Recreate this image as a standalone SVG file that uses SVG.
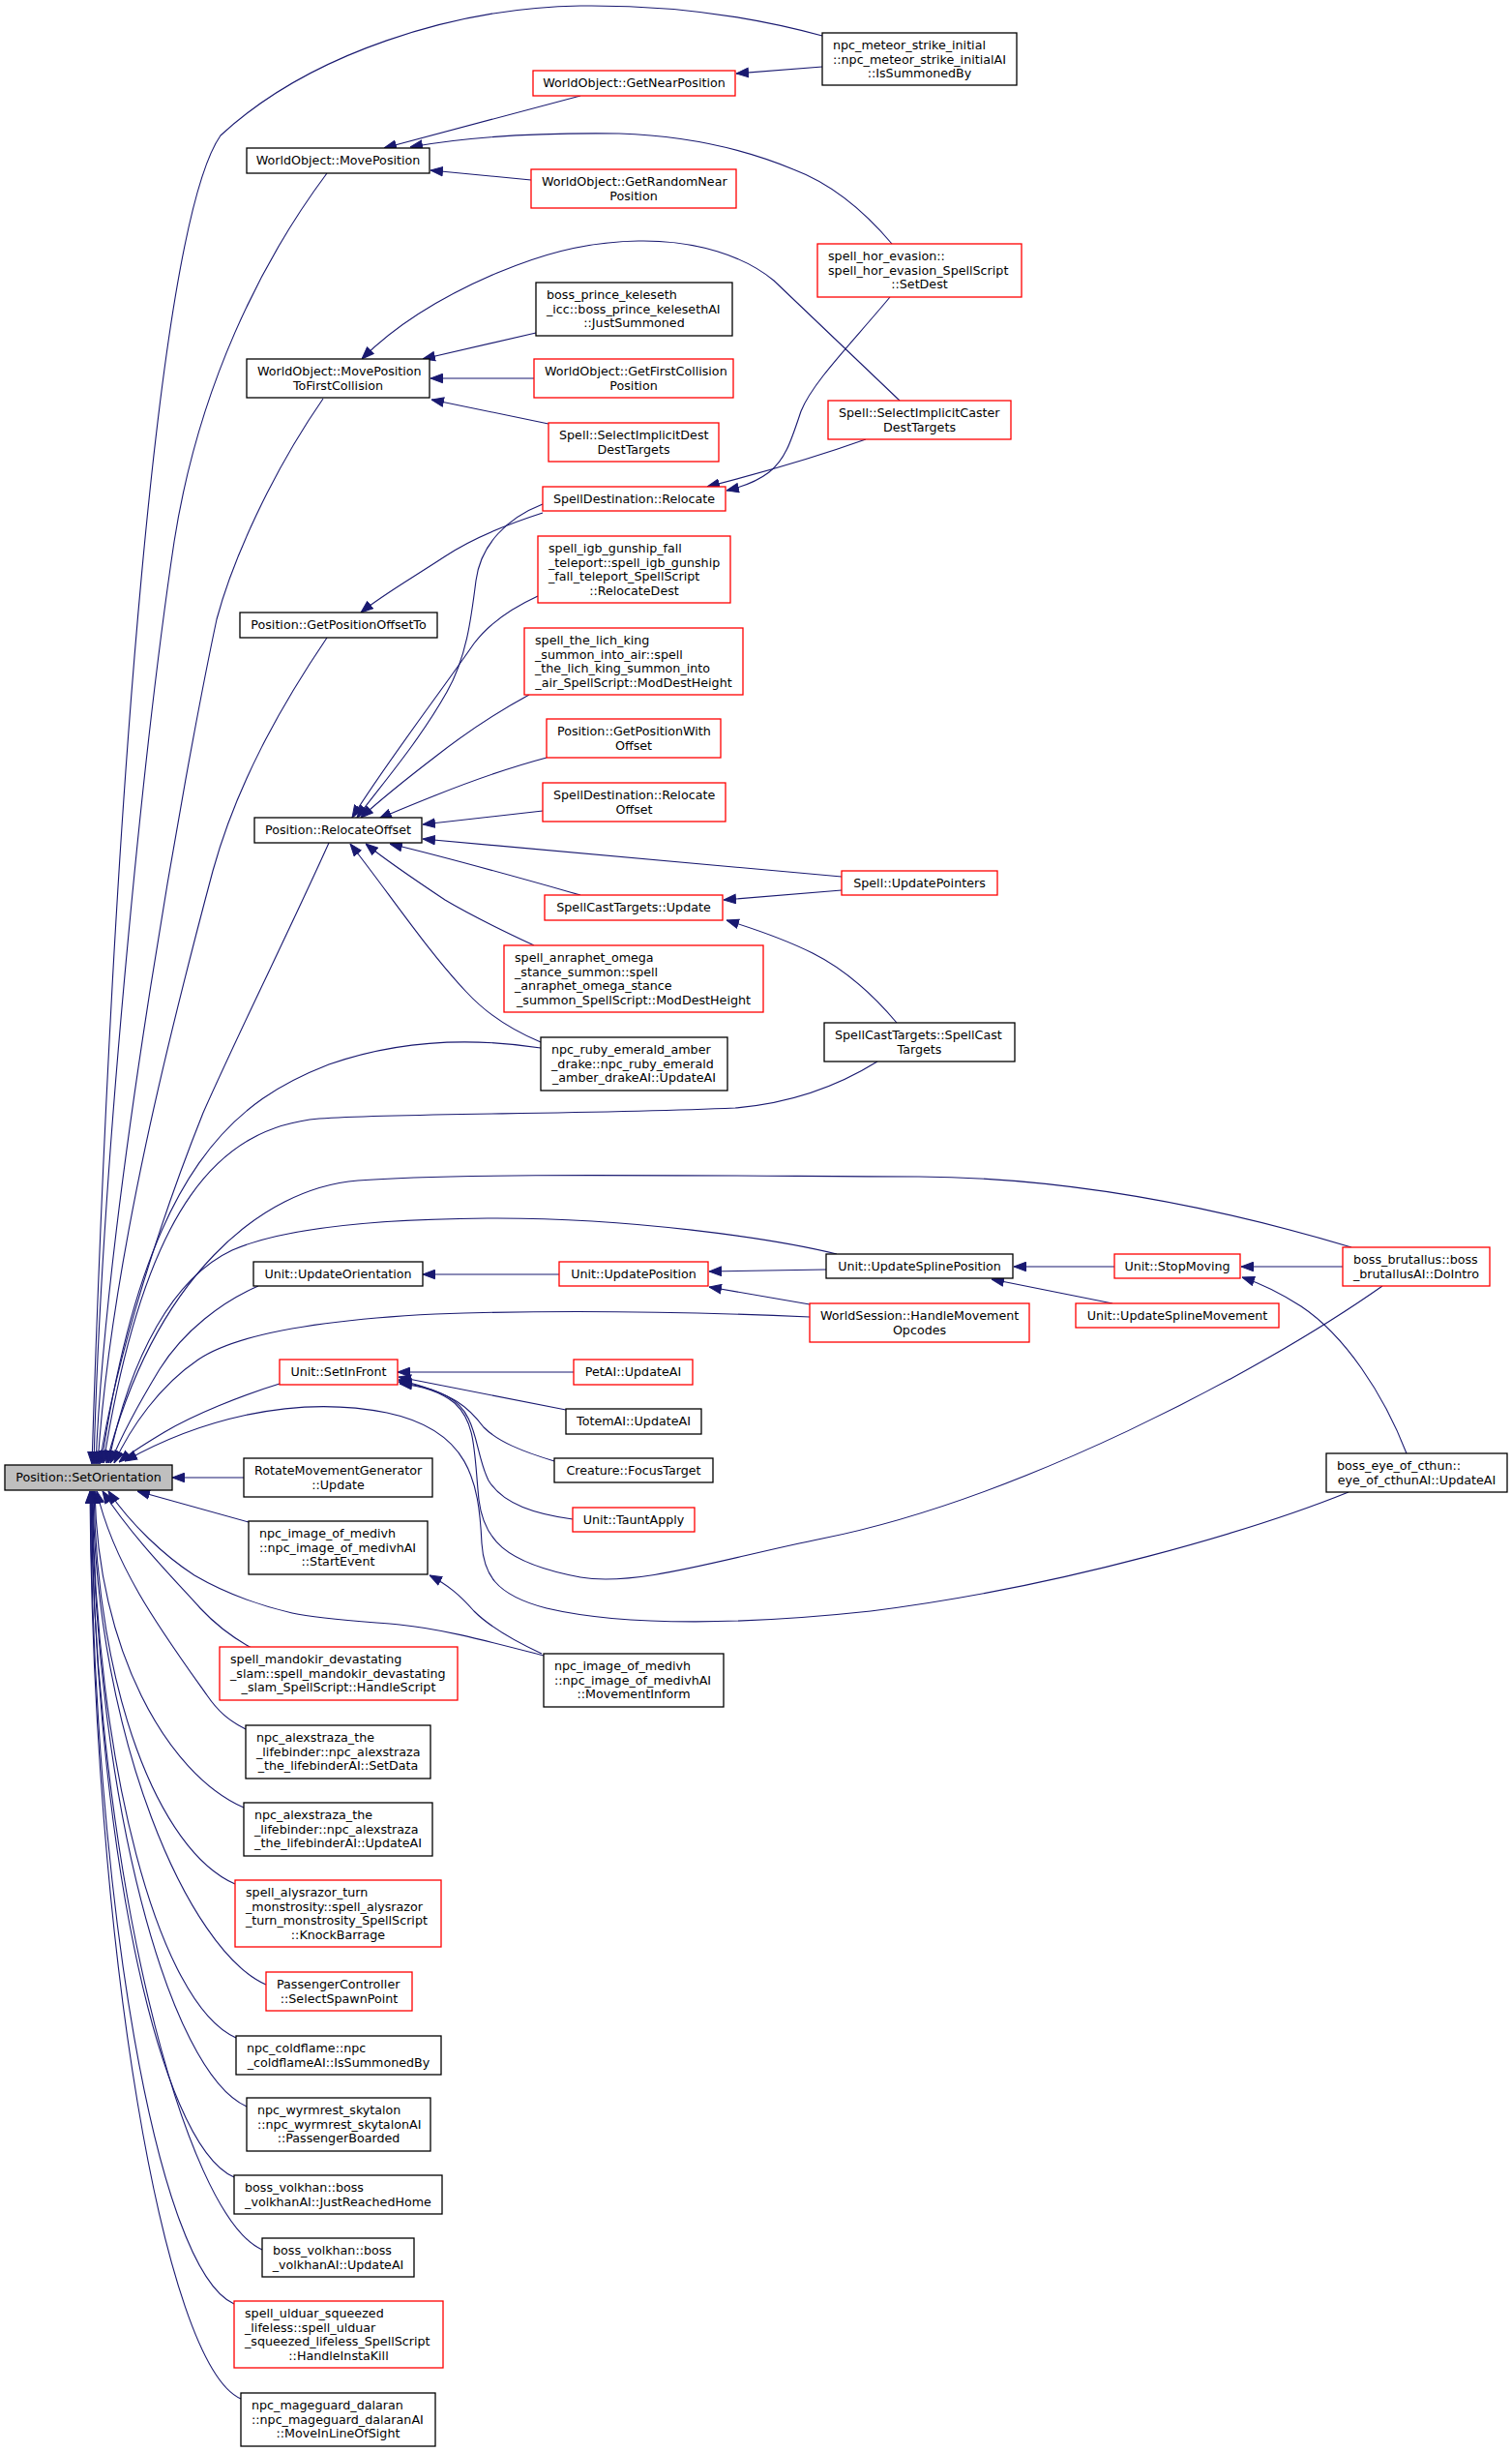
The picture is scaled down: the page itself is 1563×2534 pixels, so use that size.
<svg xmlns="http://www.w3.org/2000/svg" width="1563" height="2534" viewBox="0 0 1563 2534">
<style>
.e{fill:none;stroke:#191970;stroke-width:1.1;marker-end:url(#ah)}
.k{fill:#fff;stroke:#000;stroke-width:1.3}
.r{fill:#fff;stroke:#ff0000;stroke-width:1.3}
text{font-family:"DejaVu Sans","Liberation Sans",sans-serif;font-size:12.7px;fill:#000}
.c{text-anchor:middle}
.l{text-anchor:start}
</style>
<defs>
<marker id="ah" viewBox="0 0 13 11" refX="13" refY="5.5" markerWidth="13" markerHeight="11" orient="auto" markerUnits="userSpaceOnUse"><path d="M0.5,0.8 L13,5.5 L0.5,10.2 z" fill="#191970" stroke="#191970" stroke-width="1"/></marker>
</defs>
<rect x="0" y="0" width="1563" height="2534" fill="#fff"/>
<g id="edges">
<path class="e" d="M850,37 C770,15 690,5 600,6 C470,8 320,55 228,140 C165,230 118,800 95,1513"/>
<path class="e" d="M338,179 C270,270 205,400 180,560 C150,760 105,1200 97,1513"/>
<path class="e" d="M334,412 C280,490 240,580 224,640 C190,800 110,1250 99,1513"/>
<path class="e" d="M338,659 C290,730 245,810 220,900 C180,1050 115,1300 101,1513"/>
<path class="e" d="M340,871 C300,960 250,1060 210,1150 C170,1250 120,1400 103,1513"/>
<path class="e" d="M559,1083 C500,1074 420,1072 340,1100 C250,1135 150,1200 105,1512"/>
<path class="e" d="M907,1097 C870,1120 820,1140 760,1145 C600,1152 420,1150 330,1156 C230,1165 150,1240 107,1512"/>
<path class="e" d="M1397,1289 C1250,1245 1100,1217 950,1216 C700,1215 470,1212 370,1220 C270,1228 160,1320 110,1512"/>
<path class="e" d="M865,1296 C800,1280 650,1258 504,1259 C380,1260 290,1270 240,1292 C180,1320 135,1400 112,1512"/>
<path class="e" d="M267,1329 C230,1345 190,1375 165,1415 C145,1448 125,1485 114,1512"/>
<path class="e" d="M837,1361 C700,1355 560,1354 450,1358 C330,1364 245,1378 205,1405 C165,1432 135,1475 118,1512"/>
<path class="e" d="M289,1430 C250,1442 200,1462 170,1480 C150,1492 135,1501 123,1511"/>
<path class="e" d="M1394,1542 C1300,1580 1100,1640 900,1665 C780,1678 650,1682 565,1662 C510,1648 500,1625 498,1595 C495,1530 485,1478 400,1460 C300,1440 200,1470 129,1510"/>
<path class="e" d="M252,1527 L178,1527"/>
<path class="e" d="M257,1573 L142,1541"/>
<path class="e" d="M562,1711 C500,1695 455,1683 413,1679 C365,1675 330,1673 302,1667 C255,1656 225,1642 201,1628 C170,1608 135,1575 112,1541"/>
<path class="e" d="M260,1703 C238,1691 222,1678 207,1662 C180,1632 138,1590 106,1541"/>
<path class="e" d="M254,1787 C236,1778 225,1768 214,1752 C170,1690 118,1620 100,1541"/>
<path class="e" d="M252,1868 C172,1833 101,1704 98,1541"/>
<path class="e" d="M243,1947 C163,1912 100,1744 97,1541"/>
<path class="e" d="M275,2051 C195,2016 99,1796 96,1541"/>
<path class="e" d="M244,2106 C164,2071 98,1823 95.5,1541"/>
<path class="e" d="M255,2177 C175,2142 98,1859 95,1541"/>
<path class="e" d="M242,2250 C162,2215 97,1895 94.5,1541"/>
<path class="e" d="M271,2325 C191,2290 97,1933 94,1541"/>
<path class="e" d="M242,2381 C162,2346 96,1961 93.5,1541"/>
<path class="e" d="M249,2479 C169,2444 96,2010 93,1541"/>
<path class="e" d="M850,69 L761,76"/>
<path class="e" d="M600,99 L397,153"/>
<path class="e" d="M922,252 C895,220 860,190 820,175 C760,150 700,140 640,138 C560,137 490,140 424,152"/>
<path class="e" d="M549,186 L445,176"/>
<path class="e" d="M554,344 L437,371"/>
<path class="e" d="M552,391 L445,391"/>
<path class="e" d="M567,438 L446,413"/>
<path class="e" d="M930,414 L800,290 C770,265 720,248 660,249 C600,250 555,265 514,282 C460,305 410,335 374,371"/>
<path class="e" d="M920,307 C880,355 840,395 828,425 C818,455 812,475 795,488 C782,498 768,503 751,507"/>
<path class="e" d="M895,454 C850,470 790,488 731,503"/>
<path class="e" d="M561,530 C530,540 490,555 460,575 C425,598 395,615 373,633"/>
<path class="e" d="M561,521 C525,535 497,562 492,600 C487,640 482,680 462,715 C432,768 395,810 369,845"/>
<path class="e" d="M556,616 C530,628 505,645 490,665 C452,720 398,790 364,845"/>
<path class="e" d="M547,718 C510,738 478,760 450,782 C420,805 395,825 373,845"/>
<path class="e" d="M565,783 C520,795 480,810 450,822 C430,830 410,838 392,846"/>
<path class="e" d="M561,838 L437,852"/>
<path class="e" d="M870,906 L437,867"/>
<path class="e" d="M600,925 C540,908 470,888 403,872"/>
<path class="e" d="M552,977 C520,962 490,948 460,930 C430,910 400,890 378,872"/>
<path class="e" d="M559,1077 C530,1065 505,1050 482,1025 C442,983 400,920 362,872"/>
<path class="e" d="M870,920 L748,930"/>
<path class="e" d="M927,1057 C900,1025 870,1000 840,985 C810,970 780,960 751,951"/>
<path class="e" d="M578,1317 L437,1317"/>
<path class="e" d="M854,1312 L733,1314"/>
<path class="e" d="M837,1348 L733,1330"/>
<path class="e" d="M1152,1309 L1048,1309"/>
<path class="e" d="M1150,1347 L1025,1322"/>
<path class="e" d="M1388,1309 L1283,1309"/>
<path class="e" d="M1454,1502 C1430,1440 1390,1380 1345,1350 C1320,1334 1302,1326 1284,1320"/>
<path class="e" d="M593,1418 L411,1418"/>
<path class="e" d="M585,1457 L412,1423"/>
<path class="e" d="M573,1510 C540,1500 515,1490 500,1475 C485,1455 470,1440 412,1426"/>
<path class="e" d="M592,1570 C555,1565 520,1555 505,1530 C490,1500 495,1460 462,1443 C447,1435 430,1431 412,1428"/>
<path class="e" d="M1429,1329 C1300,1420 1050,1550 850,1590 C750,1610 660,1640 600,1630 C520,1615 500,1590 495,1550 C490,1500 492,1470 470,1450 C455,1438 435,1432 413,1430"/>
<path class="e" d="M560,1709 C530,1695 505,1680 490,1665 C475,1648 463,1638 444,1628"/>
</g>
<g id="n_setorient"><rect x="5" y="1514" width="173" height="26" class="k" style="fill:#bfbfbf"/><text x="91.5" y="1531" class="c">Position::SetOrientation</text></g>
<g id="n_movepos"><rect x="255" y="153" width="189" height="26" class="k"/><text x="349.5" y="170" class="c">WorldObject::MovePosition</text></g>
<g id="n_getnear"><rect x="551" y="73" width="209" height="26" class="r"/><text x="655.5" y="90" class="c">WorldObject::GetNearPosition</text></g>
<g id="n_meteor"><rect x="850" y="34" width="201" height="54" class="k"/><text x="861" y="50.8" class="l">npc_meteor_strike_initial</text><text x="861" y="65.5" class="l">::npc_meteor_strike_initialAI</text><text x="950.5" y="80.2" class="c">::IsSummonedBy</text></g>
<g id="n_randnear"><rect x="549" y="175" width="212" height="40" class="r"/><text x="560" y="191.8" class="l">WorldObject::GetRandomNear</text><text x="655" y="206.5" class="c">Position</text></g>
<g id="n_horevasion"><rect x="845" y="252" width="211" height="55" class="r"/><text x="856" y="268.8" class="l">spell_hor_evasion::</text><text x="856" y="283.5" class="l">spell_hor_evasion_SpellScript</text><text x="950.5" y="298.2" class="c">::SetDest</text></g>
<g id="n_keleseth"><rect x="554" y="292" width="203" height="55" class="k"/><text x="565" y="308.8" class="l">boss_prince_keleseth</text><text x="565" y="323.5" class="l">_icc::boss_prince_kelesethAI</text><text x="655.5" y="338.2" class="c">::JustSummoned</text></g>
<g id="n_movefirst"><rect x="255" y="371" width="189" height="40" class="k"/><text x="266" y="387.8" class="l">WorldObject::MovePosition</text><text x="349.5" y="402.5" class="c">ToFirstCollision</text></g>
<g id="n_firstcoll"><rect x="552" y="371" width="206" height="40" class="r"/><text x="563" y="387.8" class="l">WorldObject::GetFirstCollision</text><text x="655" y="402.5" class="c">Position</text></g>
<g id="n_caster"><rect x="856" y="414" width="189" height="40" class="r"/><text x="867" y="430.8" class="l">Spell::SelectImplicitCaster</text><text x="950.5" y="445.5" class="c">DestTargets</text></g>
<g id="n_destdest"><rect x="567" y="437" width="176" height="40" class="r"/><text x="578" y="453.8" class="l">Spell::SelectImplicitDest</text><text x="655" y="468.5" class="c">DestTargets</text></g>
<g id="n_relocate"><rect x="561" y="503" width="189" height="25" class="r"/><text x="655.5" y="520" class="c">SpellDestination::Relocate</text></g>
<g id="n_igb"><rect x="556" y="554" width="199" height="69" class="r"/><text x="567" y="570.8" class="l">spell_igb_gunship_fall</text><text x="567" y="585.5" class="l">_teleport::spell_igb_gunship</text><text x="567" y="600.2" class="l">_fall_teleport_SpellScript</text><text x="655.5" y="614.9" class="c">::RelocateDest</text></g>
<g id="n_offsetto"><rect x="248" y="633" width="204" height="26" class="k"/><text x="350" y="650" class="c">Position::GetPositionOffsetTo</text></g>
<g id="n_lichking"><rect x="542" y="649" width="226" height="69" class="r"/><text x="553" y="665.8" class="l">spell_the_lich_king</text><text x="553" y="680.5" class="l">_summon_into_air::spell</text><text x="553" y="695.2" class="l">_the_lich_king_summon_into</text><text x="655" y="709.9" class="c">_air_SpellScript::ModDestHeight</text></g>
<g id="n_withoffset"><rect x="565" y="743" width="180" height="40" class="r"/><text x="576" y="759.8" class="l">Position::GetPositionWith</text><text x="655" y="774.5" class="c">Offset</text></g>
<g id="n_reloffsetsd"><rect x="561" y="809" width="189" height="40" class="r"/><text x="572" y="825.8" class="l">SpellDestination::Relocate</text><text x="655.5" y="840.5" class="c">Offset</text></g>
<g id="n_reloffset"><rect x="263" y="845" width="173" height="26" class="k"/><text x="349.5" y="862" class="c">Position::RelocateOffset</text></g>
<g id="n_updptr"><rect x="870" y="900" width="161" height="25" class="r"/><text x="950.5" y="917" class="c">Spell::UpdatePointers</text></g>
<g id="n_sctupdate"><rect x="563" y="925" width="184" height="26" class="r"/><text x="655" y="942" class="c">SpellCastTargets::Update</text></g>
<g id="n_anraphet"><rect x="521" y="977" width="268" height="69" class="r"/><text x="532" y="993.8" class="l">spell_anraphet_omega</text><text x="532" y="1008.5" class="l">_stance_summon::spell</text><text x="532" y="1023.2" class="l">_anraphet_omega_stance</text><text x="655" y="1037.9" class="c">_summon_SpellScript::ModDestHeight</text></g>
<g id="n_scttargets"><rect x="852" y="1057" width="197" height="40" class="k"/><text x="863" y="1073.8" class="l">SpellCastTargets::SpellCast</text><text x="950.5" y="1088.5" class="c">Targets</text></g>
<g id="n_ruby"><rect x="559" y="1072" width="193" height="55" class="k"/><text x="570" y="1088.8" class="l">npc_ruby_emerald_amber</text><text x="570" y="1103.5" class="l">_drake::npc_ruby_emerald</text><text x="655.5" y="1118.2" class="c">_amber_drakeAI::UpdateAI</text></g>
<g id="n_brutallus"><rect x="1388" y="1289" width="152" height="40" class="r"/><text x="1399" y="1305.8" class="l">boss_brutallus::boss</text><text x="1464" y="1320.5" class="c">_brutallusAI::DoIntro</text></g>
<g id="n_updorient"><rect x="262" y="1304" width="175" height="25" class="k"/><text x="349.5" y="1321" class="c">Unit::UpdateOrientation</text></g>
<g id="n_updpos"><rect x="578" y="1304" width="154" height="25" class="r"/><text x="655" y="1321" class="c">Unit::UpdatePosition</text></g>
<g id="n_splinepos"><rect x="854" y="1296" width="193" height="25" class="k"/><text x="950.5" y="1313" class="c">Unit::UpdateSplinePosition</text></g>
<g id="n_stopmoving"><rect x="1152" y="1296" width="130" height="25" class="r"/><text x="1217" y="1313" class="c">Unit::StopMoving</text></g>
<g id="n_handlemove"><rect x="837" y="1347" width="227" height="40" class="r"/><text x="848" y="1363.8" class="l">WorldSession::HandleMovement</text><text x="950.5" y="1378.5" class="c">Opcodes</text></g>
<g id="n_splinemove"><rect x="1112" y="1347" width="210" height="25" class="r"/><text x="1217" y="1364" class="c">Unit::UpdateSplineMovement</text></g>
<g id="n_setinfront"><rect x="289" y="1405" width="122" height="26" class="r"/><text x="350" y="1422" class="c">Unit::SetInFront</text></g>
<g id="n_petai"><rect x="593" y="1405" width="123" height="26" class="r"/><text x="654.5" y="1422" class="c">PetAI::UpdateAI</text></g>
<g id="n_totemai"><rect x="585" y="1456" width="140" height="26" class="k"/><text x="655" y="1473" class="c">TotemAI::UpdateAI</text></g>
<g id="n_focus"><rect x="573" y="1507" width="164" height="25" class="k"/><text x="655" y="1524" class="c">Creature::FocusTarget</text></g>
<g id="n_taunt"><rect x="592" y="1558" width="126" height="25" class="r"/><text x="655" y="1575" class="c">Unit::TauntApply</text></g>
<g id="n_eyecthun"><rect x="1371" y="1502" width="187" height="40" class="k"/><text x="1382" y="1518.8" class="l">boss_eye_of_cthun::</text><text x="1464.5" y="1533.5" class="c">eye_of_cthunAI::UpdateAI</text></g>
<g id="n_rotate"><rect x="252" y="1507" width="195" height="40" class="k"/><text x="263" y="1523.8" class="l">RotateMovementGenerator</text><text x="349.5" y="1538.5" class="c">::Update</text></g>
<g id="n_medstart"><rect x="257" y="1572" width="185" height="55" class="k"/><text x="268" y="1588.8" class="l">npc_image_of_medivh</text><text x="268" y="1603.5" class="l">::npc_image_of_medivhAI</text><text x="349.5" y="1618.2" class="c">::StartEvent</text></g>
<g id="n_mandokir"><rect x="227" y="1702" width="246" height="55" class="r"/><text x="238" y="1718.8" class="l">spell_mandokir_devastating</text><text x="238" y="1733.5" class="l">_slam::spell_mandokir_devastating</text><text x="350" y="1748.2" class="c">_slam_SpellScript::HandleScript</text></g>
<g id="n_medmove"><rect x="562" y="1709" width="186" height="55" class="k"/><text x="573" y="1725.8" class="l">npc_image_of_medivh</text><text x="573" y="1740.5" class="l">::npc_image_of_medivhAI</text><text x="655" y="1755.2" class="c">::MovementInform</text></g>
<g id="n_alexset"><rect x="254" y="1783" width="191" height="55" class="k"/><text x="265" y="1799.8" class="l">npc_alexstraza_the</text><text x="265" y="1814.5" class="l">_lifebinder::npc_alexstraza</text><text x="349.5" y="1829.2" class="c">_the_lifebinderAI::SetData</text></g>
<g id="n_alexupd"><rect x="252" y="1863" width="195" height="55" class="k"/><text x="263" y="1879.8" class="l">npc_alexstraza_the</text><text x="263" y="1894.5" class="l">_lifebinder::npc_alexstraza</text><text x="349.5" y="1909.2" class="c">_the_lifebinderAI::UpdateAI</text></g>
<g id="n_alysrazor"><rect x="243" y="1943" width="213" height="69" class="r"/><text x="254" y="1959.8" class="l">spell_alysrazor_turn</text><text x="254" y="1974.5" class="l">_monstrosity::spell_alysrazor</text><text x="254" y="1989.2" class="l">_turn_monstrosity_SpellScript</text><text x="349.5" y="2003.9" class="c">::KnockBarrage</text></g>
<g id="n_passenger"><rect x="275" y="2038" width="151" height="40" class="r"/><text x="286" y="2054.8" class="l">PassengerController</text><text x="350.5" y="2069.5" class="c">::SelectSpawnPoint</text></g>
<g id="n_coldflame"><rect x="244" y="2104" width="212" height="40" class="k"/><text x="255" y="2120.8" class="l">npc_coldflame::npc</text><text x="350" y="2135.5" class="c">_coldflameAI::IsSummonedBy</text></g>
<g id="n_wyrmrest"><rect x="255" y="2168" width="190" height="55" class="k"/><text x="266" y="2184.8" class="l">npc_wyrmrest_skytalon</text><text x="266" y="2199.5" class="l">::npc_wyrmrest_skytalonAI</text><text x="350" y="2214.2" class="c">::PassengerBoarded</text></g>
<g id="n_volkhanjrh"><rect x="242" y="2248" width="215" height="40" class="k"/><text x="253" y="2264.8" class="l">boss_volkhan::boss</text><text x="349.5" y="2279.5" class="c">_volkhanAI::JustReachedHome</text></g>
<g id="n_volkhanupd"><rect x="271" y="2313" width="157" height="40" class="k"/><text x="282" y="2329.8" class="l">boss_volkhan::boss</text><text x="349.5" y="2344.5" class="c">_volkhanAI::UpdateAI</text></g>
<g id="n_ulduar"><rect x="242" y="2378" width="216" height="69" class="r"/><text x="253" y="2394.8" class="l">spell_ulduar_squeezed</text><text x="253" y="2409.5" class="l">_lifeless::spell_ulduar</text><text x="253" y="2424.2" class="l">_squeezed_lifeless_SpellScript</text><text x="350" y="2438.9" class="c">::HandleInstaKill</text></g>
<g id="n_mageguard"><rect x="249" y="2473" width="201" height="55" class="k"/><text x="260" y="2489.8" class="l">npc_mageguard_dalaran</text><text x="260" y="2504.5" class="l">::npc_mageguard_dalaranAI</text><text x="349.5" y="2519.2" class="c">::MoveInLineOfSight</text></g>
</svg>
